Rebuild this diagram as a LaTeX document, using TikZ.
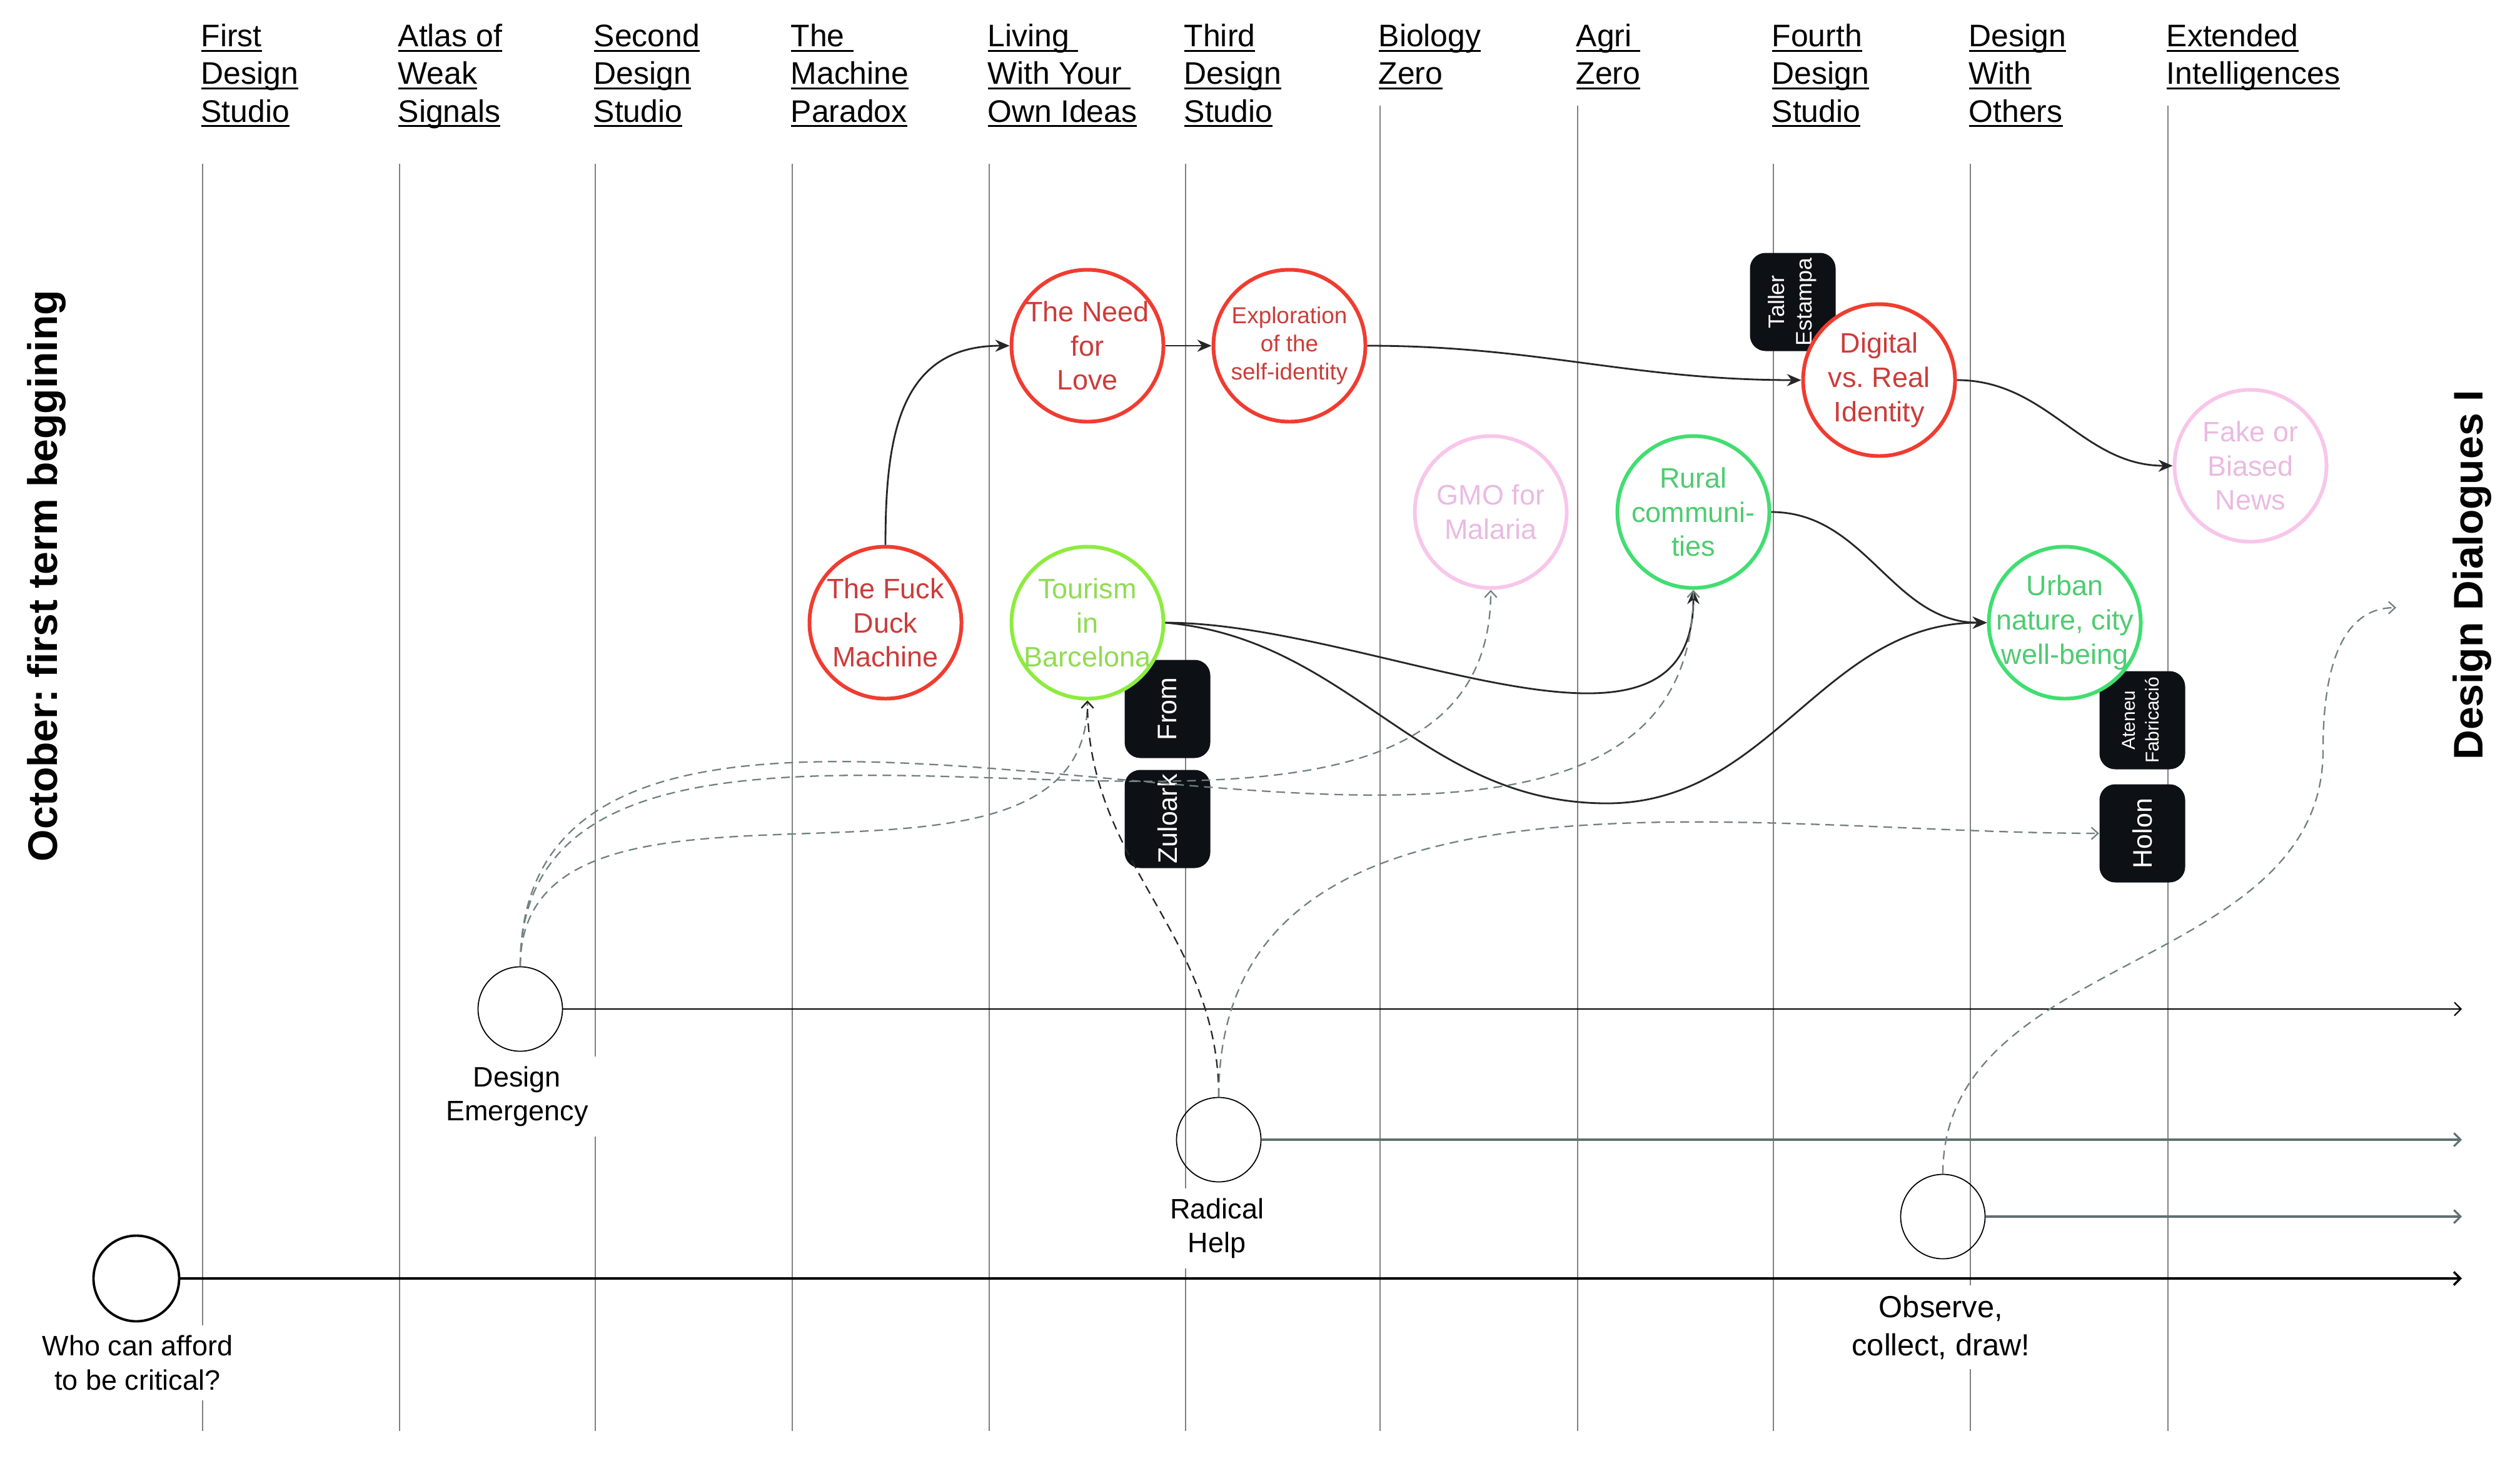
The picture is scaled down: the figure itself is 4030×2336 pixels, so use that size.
\documentclass[tikz,border=0pt]{standalone}
\usepackage{fontspec}
\setmainfont{Liberation Sans}
\usepackage{graphicx}
\usetikzlibrary{arrows.meta}
\frenchspacing

\definecolor{rougetrait}{RGB}{240,60,48}
\definecolor{rougetexte}{RGB}{204,60,58}
\definecolor{limetrait}{RGB}{140,236,62}
\definecolor{limetexte}{RGB}{144,220,82}
\definecolor{verttrait}{RGB}{64,222,112}
\definecolor{verttexte}{RGB}{78,204,112}
\definecolor{rosetrait}{RGB}{248,198,234}
\definecolor{rosetexte}{RGB}{234,186,226}
\definecolor{tiret}{RGB}{112,128,128}
\definecolor{frisegris}{RGB}{96,112,112}
\definecolor{noirboite}{RGB}{13,16,20}

% souligne a hauteur fixe
\newcommand{\souligne}[1]{\setbox0\hbox{#1}\rlap{\rule[-2.2pt]{\wd0}{0.85pt}}\box0}

\tikzset{
  titre/.style={anchor=north west, inner sep=0pt, align=left, font=\fontsize{14.2}{17.1}\selectfont},
  grille/.style={black!50, line width=0.4pt},
  sujet/.style={circle, draw, fill=white, line width=1.7pt, minimum size=24.3mm, inner sep=-2mm, align=center, font=\fontsize{12.8}{15.6}\selectfont},
  sujetrouge/.style={sujet, draw=rougetrait, text=rougetexte},
  sujetlime/.style={sujet, draw=limetrait, text=limetexte},
  sujetvert/.style={sujet, draw=verttrait, text=verttexte},
  sujetrose/.style={sujet, draw=rosetrait, text=rosetexte},
  boite/.style={rectangle, rounded corners=2.5mm, fill=noirboite, text=white, minimum width=13.7mm, minimum height=15.7mm, inner sep=0pt, font=\fontsize{12.2}{14}\selectfont},
  jalon/.style={circle, draw, line width=0.5pt, minimum size=13.5mm},
  legende/.style={fill=white, align=center, inner sep=1.6mm, font=\fontsize{12.8}{15.5}\selectfont},
  frise/.style={->, >={Straight Barb[length=3pt,width=6pt]}, line width=0.6pt},
  fleche/.style={->, >={Stealth[length=6.5pt,width=5.5pt]}, line width=0.8pt, black!85},
  lien/.style={->, >={Straight Barb[length=3pt,width=5.5pt]}, dash pattern=on 4pt off 2.6pt, line width=0.65pt, tiret},
  cote/.style={rotate=90, inner sep=0pt, font=\fontsize{18.8}{22}\selectfont\bfseries}
}

\begin{document}
\begin{tikzpicture}[x=0.1mm, y=0.1mm]
	\useasboundingbox (0,0) rectangle (4030,-2336);
	% titres des colonnes
	\node (first) at (321,-38) [titre] {\souligne{First}\\\souligne{Design}\\\souligne{Studio}};
	\node (atlas) at (636,-38) [titre] {\souligne{Atlas of}\\\souligne{Weak}\\\souligne{Signals}};
	\node (second) at (949,-38) [titre] {\souligne{Second}\\\souligne{Design}\\\souligne{Studio}};
	\node (machine) at (1264,-38) [titre] {\souligne{The\ }\\\souligne{Machine}\\\souligne{Paradox}};
	\node (living) at (1579,-38) [titre] {\souligne{Living\ }\\\souligne{With Your\ }\\\souligne{Own Ideas}};
	\node (third) at (1893,-38) [titre] {\souligne{Third}\\\souligne{Design}\\\souligne{Studio}};
	\node (biology) at (2204,-38) [titre] {\souligne{Biology}\\\souligne{Zero}};
	\node (agri) at (2520,-38) [titre] {\souligne{Agri\ }\\\souligne{Zero}};
	\node (fourth) at (2833,-38) [titre] {\souligne{Fourth}\\\souligne{Design}\\\souligne{Studio}};
	\node (others) at (3148,-38) [titre] {\souligne{Design}\\\souligne{With}\\\souligne{Others}};
	\node (extended) at (3464,-38) [titre] {\souligne{Extended}\\\souligne{Intelligences}};

	% lignes verticales
	\draw[grille] (324,-262) -- (324,-2289);
	\draw[grille] (639,-262) -- (639,-2289);
	\draw[grille] (952,-262) -- (952,-2289);
	\draw[grille] (1267,-262) -- (1267,-2289);
	\draw[grille] (1582,-262) -- (1582,-2289);
	\draw[grille] (1896,-262) -- (1896,-2289);
	\draw[grille] (2207,-169) -- (2207,-2289);
	\draw[grille] (2523,-169) -- (2523,-2289);
	\draw[grille] (2836,-262) -- (2836,-2289);
	\draw[grille] (3151,-262) -- (3151,-2289);
	\draw[grille] (3467,-169) -- (3467,-2289);

	% titres lateraux
	\node (octobre) at (75,-921) [cote] {October: first term beggining};
	\node (dialogues) at (3953,-920) [cote] {Design Dialogues I};

	% frises du bas
	\node (who) at (218,-2045) [jalon, line width=1.1pt, minimum size=13.7mm] {};
	\node (lwho) at (220,-2180) [legende] {Who can afford\\to be critical?};
	\node (de) at (832,-1614) [jalon] {};
	\node (lde) at (827,-1754) [legende] {Design\\Emergency};
	\node (rh) at (1949,-1823) [jalon] {};
	\node (lrh) at (1946,-1965) [legende] {Radical\\Help};
	\node (obs) at (3107,-1946) [jalon] {};
	\node (lobs) at (3104,-2123) [legende, font=\fontsize{13.9}{17.4}\selectfont] {Observe,\\collect, draw!};
	\coordinate (fwho) at (3937,-2045);
	\coordinate (fde) at (3937,-1614);
	\coordinate (frh) at (3937,-1823);
	\coordinate (fobs) at (3937,-1946);
	\draw[frise, line width=1pt] (who) -- (fwho);
	\draw[frise] (de) -- (fde);
	\draw[frise, frisegris, line width=0.9pt] (rh) -- (frh);
	\draw[frise, frisegris, line width=0.9pt] (obs) -- (fobs);

	% etiquettes noires
	\node (taller) at (2867,-483) [boite, font=\fontsize{10.2}{12.5}\selectfont] {\rotatebox{90}{\begin{tabular}{@{}c@{}}Taller\\Estampa\end{tabular}}};
	\node (from) at (1867,-1134) [boite] {\rotatebox{90}{From}};
	\node (zuloark) at (1867,-1310) [boite] {\rotatebox{90}{Zuloark}};
	\node (ateneu) at (3426,-1152) [boite, font=\fontsize{8.5}{10.8}\selectfont] {\rotatebox{90}{\begin{tabular}{@{}c@{}}Ateneu\\Fabricació\end{tabular}}};
	\node (holon) at (3426,-1333) [boite] {\rotatebox{90}{Holon}};

	% projets
	\node (fuck) at (1416,-996) [sujetrouge] {The Fuck\\Duck\\Machine};
	\node (need) at (1739,-553) [sujetrouge] {The Need\\for\\Love};
	\node (explo) at (2062,-553) [sujetrouge, font=\fontsize{10.5}{12.8}\selectfont] {Exploration\\of the\\self-identity};
	\node (tour) at (1739,-996) [sujetlime] {Tourism\\in\\Barcelona};
	\node (gmo) at (2384,-819) [sujetrose] {GMO for\\Malaria};
	\node (rural) at (2708,-819) [sujetvert] {Rural\\communi-\\ties};
	\node (digital) at (3005,-608) [sujetrouge] {Digital\\vs. Real\\Identity};
	\node (fake) at (3599,-745) [sujetrose] {Fake or\\Biased\\News};
	\node (urban) at (3302,-996) [sujetvert] {Urban\\nature, city\\well-being};

	% liens pleins
	\coordinate (creux) at (2570,-1285);
	\draw[fleche] (fuck.north) to[out=90,in=180,looseness=1.2] (need.west);
	\draw[fleche] (need.east) -- (explo.west);
	\draw[fleche] (explo.east) to[out=0,in=180] (digital.west);
	\draw[fleche] (digital.east) to[out=0,in=180] (fake.west);
	\draw[fleche] (rural.east) to[out=0,in=180] (urban.west);
	\draw[fleche] (tour.east) to[out=0,in=-90] (rural.south);
	\draw[fleche] (tour.east) to[out=-5,in=180] (creux) to[out=0,in=180] (urban.west);

	% liens en pointilles
	\coordinate (pli) at (3715,-1200);
	\coordinate (fin) at (3832,-972);
	\draw[lien] (de.north) to[out=90,in=-90] (tour.south);
	\draw[lien] (de.north) to[out=90,in=-90] (gmo.south);
	\draw[lien] (de.north) to[out=90,in=-90] (rural.south);
	\draw[lien, black!85] (rh.north) to[out=90,in=-90] (tour.south);
	\draw[lien] (rh.north) to[out=90,in=180] (holon.west);
	\draw[lien] (obs.north) to[out=90,in=-90] (pli) to[out=90,in=180] (fin);
\end{tikzpicture}
\end{document}
